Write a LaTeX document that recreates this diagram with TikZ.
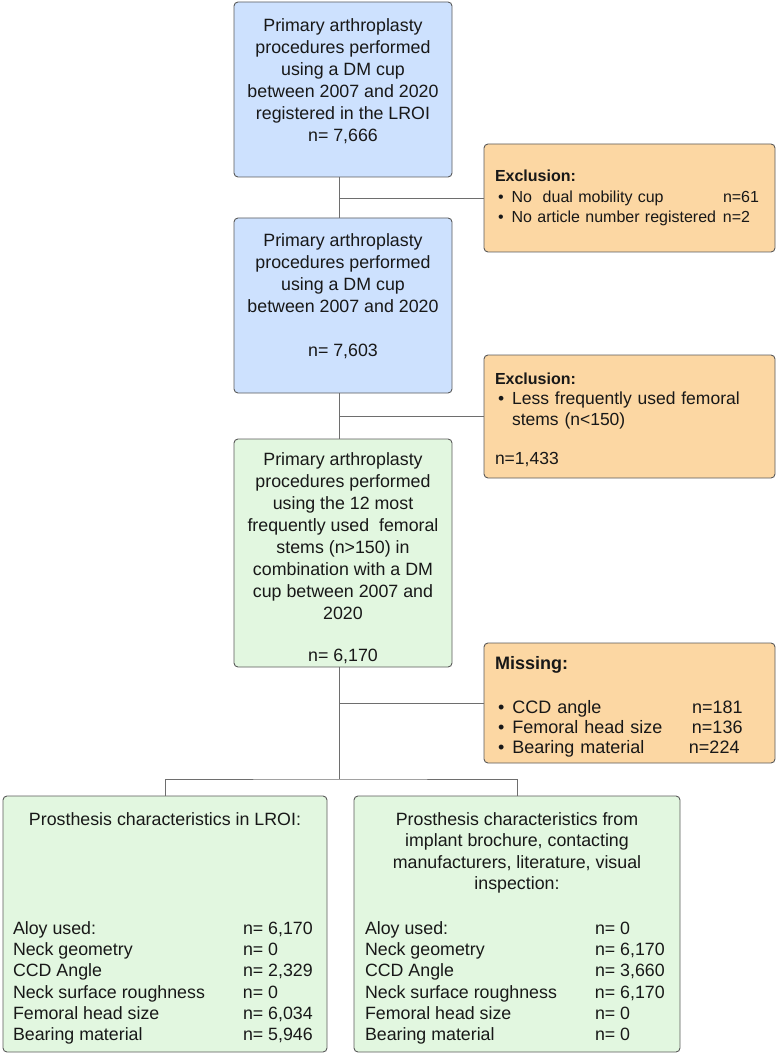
\documentclass[tikz,border=0pt]{standalone}
\usepackage{fontspec}
\setmainfont{Liberation Sans}
\usepackage{tikz}

\definecolor{dmblue}{RGB}{205,225,254}
\definecolor{stemgreen}{RGB}{226,247,224}
\definecolor{exorange}{RGB}{252,215,163}
\definecolor{edgegray}{RGB}{90,90,90}
\definecolor{linegray}{RGB}{110,110,110}
\definecolor{txtgray}{RGB}{24,24,24}
\newcommand{\exitem}{\hspace*{3pt}•\hspace{8pt}}

\begin{document}
\begin{tikzpicture}[x=1pt, y=-1pt,
    box/.style={draw=edgegray, line width=0.9pt, rounded corners=4pt, inner sep=0pt,
        text=txtgray, font=\fontsize{17.8}{22}\selectfont},
    bluebox/.style={box, fill=dmblue, minimum width=218, minimum height=175},
    greenbox/.style={box, fill=stemgreen},
    exbox/.style={box, fill=exorange, text width=269, align=left, inner xsep=11pt,
        font=\fontsize{16}{20.3}\selectfont},
    resbox/.style={greenbox, minimum height=256, font=\fontsize{17.8}{21.3}\selectfont},
    conn/.style={draw=linegray, line width=0.8pt}]
    \useasboundingbox (0,0) rectangle (778,1056);
    % Nodes
    \node[bluebox] (all) at (343,89.5) {\parbox[c][141.8pt][t]{204pt}{\centering
        Primary arthroplasty\\procedures performed\\using a DM cup\\between 2007 and 2020\\registered in the LROI\\n= 7,666}};
    \node[bluebox] (dm) at (343,305.5) {\parbox[c][143.8pt][t]{204pt}{\centering
        Primary arthroplasty\\procedures performed\\using a DM cup\\between 2007 and 2020\\[22pt]n= 7,603}};
    \node[greenbox, minimum width=218, minimum height=228] (top12) at (343,553) {\parbox[c][200pt][t]{204pt}{\centering
        Primary arthroplasty\\procedures performed\\using the 12 most\\frequently used\ \ femoral\\stems (n>150) in\\combination with a DM\\cup between 2007 and\\2020\\[20pt]n= 6,170}};
    \node[exbox, minimum height=108] (exc1) at (629.5,198) {\textbf{Exclusion:}\\
        \makebox[228pt][l]{\exitem No\ \ dual mobility cup}n=61\\
        \makebox[228pt][l]{\exitem No article number registered}n=2};
    \node[exbox, minimum height=123, font=\fontsize{17.5}{20.5}\selectfont] (exc2) at (629.5,416.5) {\rule{0pt}{18pt}{\fontsize{16}{20.5}\selectfont\bfseries Exclusion:}\\
        \exitem Less frequently used femoral\\
        \hspace*{17pt}stems (n<150)\\[19pt]
        n=1,433};
    \node[exbox, minimum height=120, font=\fontsize{18}{20}\selectfont] (miss) at (629.5,703) {\rule{0pt}{20pt}\textbf{Missing:}\\[24pt]
        \makebox[197pt][l]{\exitem CCD angle}n=181\\
        \makebox[197pt][l]{\exitem Femoral head size}n=136\\
        \makebox[194pt][l]{\exitem Bearing material}n=224};
    \node[resbox, minimum width=324] (lroi) at (165,924) {\parbox[c][223pt][t]{304pt}{\centering
        Prosthesis characteristics in LROI:\par\vfill\raggedright
        \makebox[230pt][l]{Aloy used:}n= 6,170\\
        \makebox[230pt][l]{Neck geometry}n= 0\\
        \makebox[230pt][l]{CCD Angle}n= 2,329\\
        \makebox[230pt][l]{Neck surface roughness}n= 0\\
        \makebox[230pt][l]{Femoral head size}n= 6,034\\
        \makebox[230pt][l]{Bearing material}n= 5,946\par\vspace*{-9pt}}};
    \node[resbox, minimum width=326] (other) at (517,924) {\parbox[c][223pt][t]{304pt}{\centering
        Prosthesis characteristics from\\implant brochure, contacting\\manufacturers, literature, visual\\inspection:\par\vfill\raggedright
        \makebox[230pt][l]{Aloy used:}n= 0\\
        \makebox[230pt][l]{Neck geometry}n= 6,170\\
        \makebox[230pt][l]{CCD Angle}n= 3,660\\
        \makebox[230pt][l]{Neck surface roughness}n= 6,170\\
        \makebox[230pt][l]{Femoral head size}n= 0\\
        \makebox[230pt][l]{Bearing material}n= 0\par\vspace*{-9pt}}};
    \coordinate (spine) at (339,0);
    \coordinate (split) at (339,779);
    % Edges
    \draw[conn] (all.south -| spine) -- (dm.north -| spine);
    \draw[conn] (dm.south -| spine) -- (top12.north -| spine);
    \draw[conn] (top12.south -| spine) -- (split);
    \draw[conn] (exc1.west -| spine) -- (exc1.west);
    \draw[conn] (exc2.west -| spine) -- (exc2.west);
    \draw[conn] (miss.west -| spine) -- (miss.west);
    \draw[conn] (lroi.north) |- (split) -| (other.north);
\end{tikzpicture}
\end{document}
